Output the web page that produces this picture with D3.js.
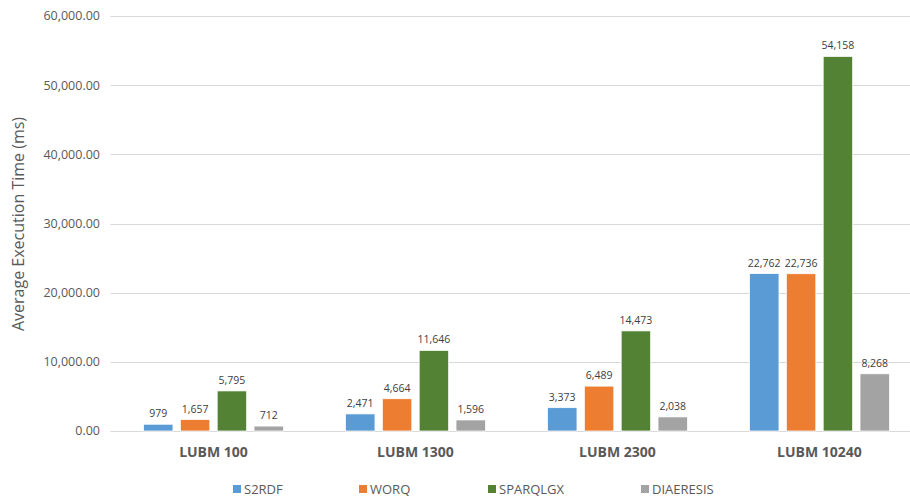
<!DOCTYPE html>
<html>
<head>
<meta charset="utf-8">
<script src="https://cdn.jsdelivr.net/npm/d3@7"></script>
<style>
  html, body { margin: 0; padding: 0; background: #fff; }
  svg { display: block; font-family: "Open Sans", "Noto Sans", sans-serif; }
</style>
</head>
<body>
<svg id="chart" width="910" height="501"></svg>
<script>
// Benchmark datasets and engines
const categories = ["LUBM 100", "LUBM 1300", "LUBM 2300", "LUBM 10240"];
const seriesNames = ["S2RDF", "WORQ", "SPARQLGX", "DIAERESIS"];
// Average execution time (ms) per engine, one entry per dataset
const s2rdf     = [979, 2471, 3373, 22762];
const worq      = [1657, 4664, 6489, 22736];
const sparqlgx  = [5795, 11646, 14473, 54158];
const diaeresis = [712, 1596, 2038, 8268];
const yTicks = [0, 10000, 20000, 30000, 40000, 50000, 60000];
const yLabel = "Average Execution Time (ms)";

const seriesValues = [s2rdf, worq, sparqlgx, diaeresis];
const colors = ["#5b9bd5", "#ed7d31", "#548235", "url(#grayDots)"];

const svg = d3.select("#chart");
const W = 910, H = 501;
const plot = { left: 112.5, right: 920.5, top: 16, bottom: 431 };

// Fine dotted fill for the grey series
const defs = svg.append("defs");
const pat = defs.append("pattern").attr("id", "grayDots")
  .attr("patternUnits", "userSpaceOnUse").attr("width", 2).attr("height", 2);
pat.append("rect").attr("width", 2).attr("height", 2).attr("fill", "#a9a9a9");
pat.append("rect").attr("width", 1).attr("height", 1).attr("fill", "#9a9a9a");
pat.append("rect").attr("x", 1).attr("y", 1).attr("width", 1).attr("height", 1).attr("fill", "#9e9e9e");

const x0 = d3.scaleBand().domain(categories).range([plot.left, plot.right]).padding(0);
const x1 = d3.scaleBand().domain(seriesNames).range([31, 171]).paddingInner(0.2).paddingOuter(0);
const y = d3.scaleLinear().domain([0, 60000]).range([plot.bottom, plot.top]);

const clip = defs.append("clipPath").attr("id", "clipW");
clip.append("rect").attr("x", 0).attr("y", 0).attr("width", W).attr("height", H);

const g = svg.append("g").attr("clip-path", "url(#clipW)");

// Horizontal gridlines
g.append("g").selectAll("line").data(yTicks).join("line")
  .attr("x1", plot.left - 2).attr("x2", W)
  .attr("y1", d => Math.round(y(d)) + 0.5).attr("y2", d => Math.round(y(d)) + 0.5)
  .attr("stroke", "#d9d9d9").attr("stroke-width", 1);

// Y axis tick labels
const fmtTick = d3.format(",.2f");
svg.append("g").selectAll("text").data(yTicks).join("text")
  .attr("x", 100).attr("y", d => y(d))
  .attr("dy", "0.35em").attr("text-anchor", "end")
  .attr("font-size", 12.5).attr("fill", "#595959")
  .text(d => fmtTick(d));

// Y axis title
svg.append("text")
  .attr("transform", `translate(24, 224) rotate(-90)`)
  .attr("text-anchor", "middle").attr("font-size", 16).attr("fill", "#595959")
  .text(yLabel);

// Bars
const groups = g.append("g").selectAll("g").data(categories).join("g")
  .attr("transform", d => `translate(${x0(d)},0)`);

const fmtVal = d3.format(",");
groups.each(function (cat, ci) {
  const grp = d3.select(this);
  seriesNames.forEach((s, si) => {
    const v = seriesValues[si][ci];
    grp.append("rect")
      .attr("x", x1(s)).attr("width", x1.bandwidth())
      .attr("y", y(v)).attr("height", y(0) - y(v))
      .attr("fill", colors[si])
      .attr("stroke", "#ffffff").attr("stroke-width", 0.75);
    grp.append("text")
      .attr("x", x1(s) + x1.bandwidth() / 2).attr("y", y(v) - 7)
      .attr("text-anchor", "middle").attr("font-size", 10.5).attr("fill", "#404040")
      .text(fmtVal(v));
  });
});

// Category labels
svg.append("g").selectAll("text").data(categories).join("text")
  .attr("x", d => x0(d) + 101).attr("y", 457)
  .attr("text-anchor", "middle").attr("font-size", 14).attr("font-weight", "bold")
  .attr("fill", "#595959")
  .text(d => d);

// Legend
const legendX = [233, 359, 488, 641];
const leg = svg.append("g").selectAll("g").data(seriesNames).join("g")
  .attr("transform", (d, i) => `translate(${legendX[i]}, 486)`);
leg.append("rect").attr("width", 8).attr("height", 8).attr("y", -1)
  .attr("fill", (d, i) => colors[i]);
leg.append("text").attr("x", 11).attr("y", 3).attr("dy", "0.35em")
  .attr("font-size", 13).attr("fill", "#595959").text(d => d);
</script>
</body>
</html>
